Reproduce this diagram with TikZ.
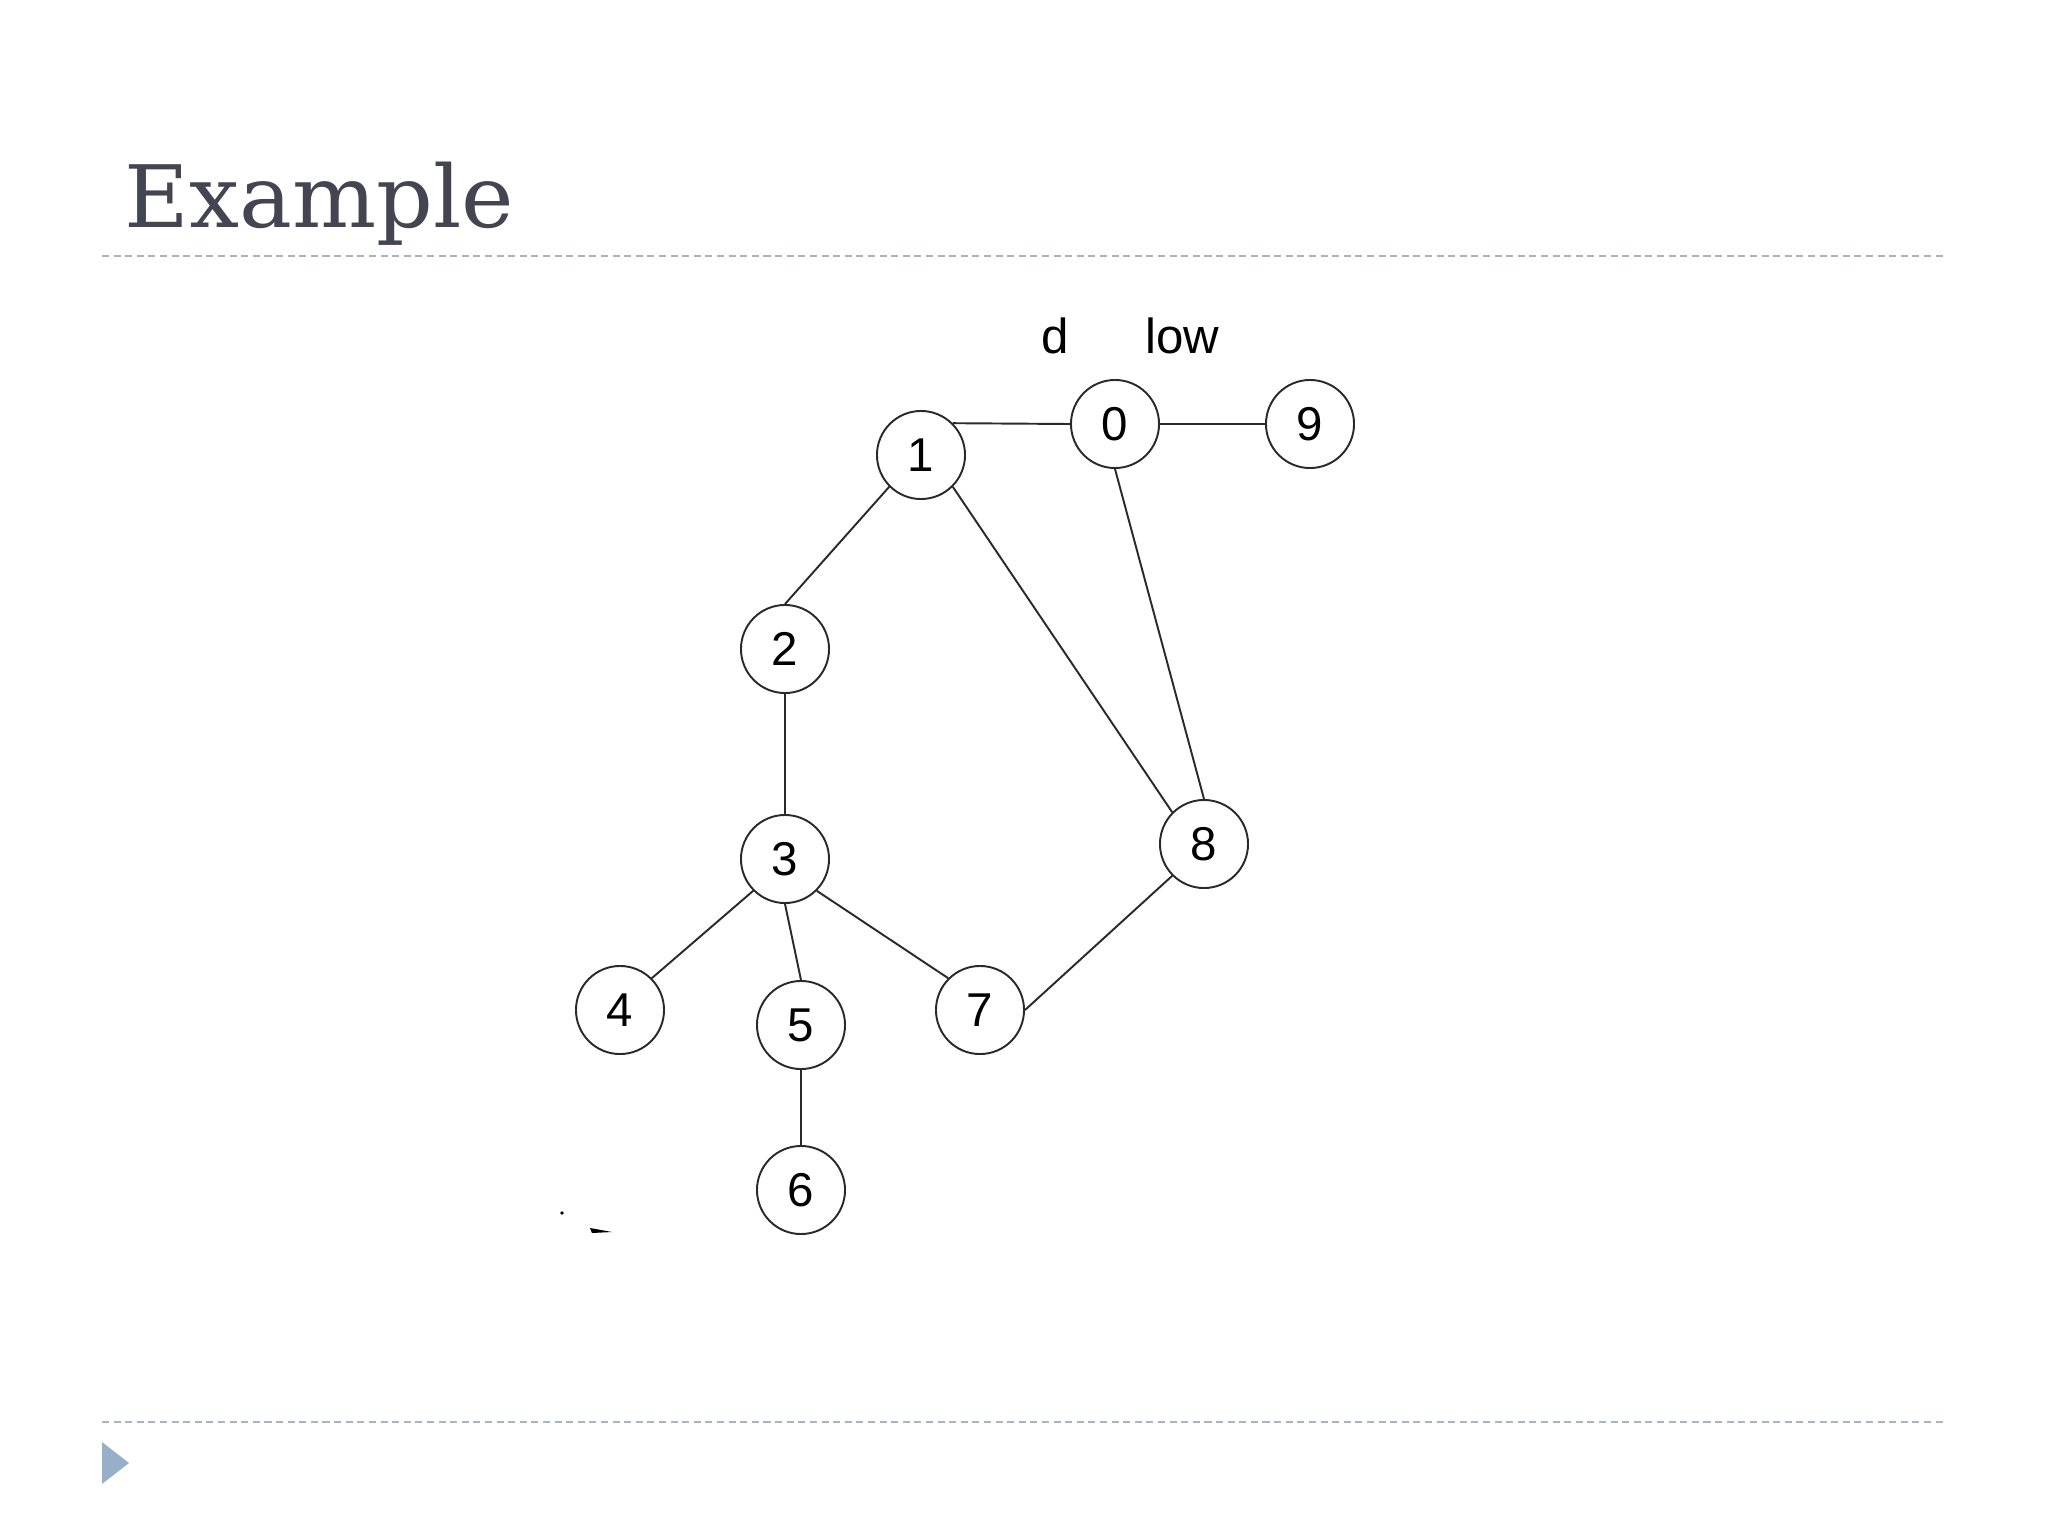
\documentclass[tikz,border=0pt]{standalone}
\usepackage{fontspec}
\newfontfamily\graphfont{Liberation Sans}
\newfontfamily\titlefont{DejaVu Serif}
\definecolor{titlecol}{HTML}{454552}
\definecolor{rulecol}{HTML}{A6B4C4}
\definecolor{tricol}{HTML}{97AFC8}
\definecolor{edgecol}{HTML}{2A2A2A}
\begin{document}
\begin{tikzpicture}[x=0.01cm,y=-0.01cm,
  vtx/.style={circle,draw=edgecol,line width=0.55pt,minimum size=0.88cm,inner sep=0pt,font=\graphfont\fontsize{13.5}{14}\selectfont},
  edge/.style={draw=edgecol,line width=0.55pt},
  lbl/.style={font=\graphfont\fontsize{14}{15}\selectfont,inner sep=0pt},
  rule/.style={draw=rulecol,line width=0.45pt,dash pattern=on 2pt off 1.3pt}]
\useasboundingbox (0,0) rectangle (2048,1536);
\fill[white] (0,0) rectangle (2048,1536);
% title
\node[anchor=base west,inner sep=0pt,text=titlecol,font=\titlefont\fontsize{24.5}{26}\selectfont,xscale=1.03] (title) at (124,227) {Example};
\coordinate (r1a) at (102,256); \coordinate (r1b) at (1946,256);
\coordinate (r2a) at (102,1422); \coordinate (r2b) at (1946,1422);
\draw[rule] (r1a) -- (r1b);
\draw[rule] (r2a) -- (r2b);
\fill[tricol] (102,1442) -- (129,1463) -- (102,1484) -- cycle;
% specks
\fill[black] (562,1213) circle (1.8);
\fill[black] (590,1228) -- (612,1232) -- (592,1233) -- cycle;
% labels
\node[lbl,anchor=base] (dl) at (1055,353) {d};
\node[lbl,anchor=base] (lowl) at (1182,353) {low};
% vertices
\node[vtx] (v0) at (1115,424) {0};
\node[vtx] (v9) at (1310,424) {9};
\node[vtx] (v1) at (921,455) {1};
\node[vtx] (v2) at (785,649) {2};
\node[vtx] (v3) at (785,859) {3};
\node[vtx] (v8) at (1204,844) {8};
\node[vtx] (v4) at (620,1010) {4};
\node[vtx] (v5) at (801,1025) {5};
\node[vtx] (v7) at (980,1010) {7};
\node[vtx] (v6) at (801,1190) {6};
% edges
\draw[edge] (v1.45) -- (v0.west);
\draw[edge] (v0.east) -- (v9.west);
\draw[edge] (v1.south west) -- (v2.north);
\draw[edge] (v1.south east) -- (v8.north west);
\draw[edge] (v0.south) -- (v8.north);
\draw[edge] (v2.south) -- (v3.north);
\draw[edge] (v3.south west) -- (v4.north east);
\draw[edge] (v3.south) -- (v5.north);
\draw[edge] (v3.south east) -- (v7.north west);
\draw[edge] (v7.east) -- (v8.south west);
\draw[edge] (v5.south) -- (v6.north);
\end{tikzpicture}
\end{document}
